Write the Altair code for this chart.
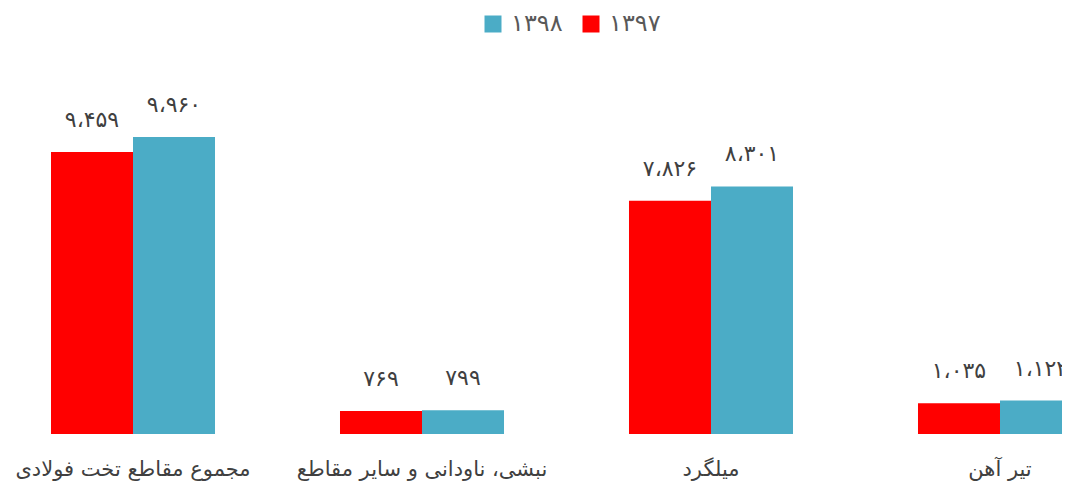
import altair as alt
import pandas as pd

categories = ["مجموع مقاطع تخت فولادی", "نبشی، ناودانی و سایر مقاطع", "میلگرد", "تیر آهن"]
series = ["۱۳۹۷", "۱۳۹۸"]
values_1397 = [9459, 769, 7826, 1035]
values_1398 = [9960, 799, 8301, 1122]
colors = ["#FF0000", "#4BACC6"]

FA = str.maketrans("0123456789", "۰۱۲۳۴۵۶۷۸۹")


def fa(n):
    return f"{n:,}".replace(",", "،").translate(FA)


rows = []
for s, vals in zip(series, [values_1397, values_1398]):
    for c, v in zip(categories, vals):
        rows.append({"category": c, "series": s, "value": v, "label": fa(v)})
df = pd.DataFrame(rows)

FONT = "DejaVu Sans"

base = alt.Chart(df).encode(
    x=alt.X(
        "category:N",
        sort=categories,
        scale=alt.Scale(range=[43, 1074], paddingInner=0.4325, paddingOuter=0),
        axis=alt.Axis(
            title=None, domain=False, ticks=False, grid=False, labelAngle=0,
            labelFont=FONT, labelFontSize=21, labelColor="#404040",
            labelPadding=24, labelLimit=500, labelOverlap=False,
        ),
    ),
    xOffset=alt.XOffset("series:N", sort=series,
                        scale=alt.Scale(paddingInner=0, paddingOuter=0)),
    y=alt.Y("value:Q", scale=alt.Scale(domain=[0, 14286], nice=False, zero=True), axis=None),
)

bars = base.mark_bar().encode(
    color=alt.Color(
        "series:N",
        scale=alt.Scale(domain=["۱۳۹۸", "۱۳۹۷"], range=["#4BACC6", "#FF0000"]),
        legend=alt.Legend(
            title=None, orient="none", legendX=473, legendY=4, direction="horizontal",
            symbolType="square", symbolSize=289, symbolStrokeWidth=0,
            labelFont=FONT, labelFontSize=24, labelColor="#595959",
            labelOffset=6, columnPadding=16,
        ),
    )
)

text = base.mark_text(
    dy=-25, baseline="alphabetic", align="center", fontSize=22, color="#404040", font=FONT
).encode(text="label:N")

chart = (
    (bars + text)
    .properties(
        width=1054, height=426,
        autosize=alt.AutoSizeParams(type="none"),
        padding={"left": 0, "top": 0, "right": 0, "bottom": 48},
    )
    .configure_view(stroke=None)
)

chart.save("out.html", embed_options={"renderer": "svg", "actions": False})
